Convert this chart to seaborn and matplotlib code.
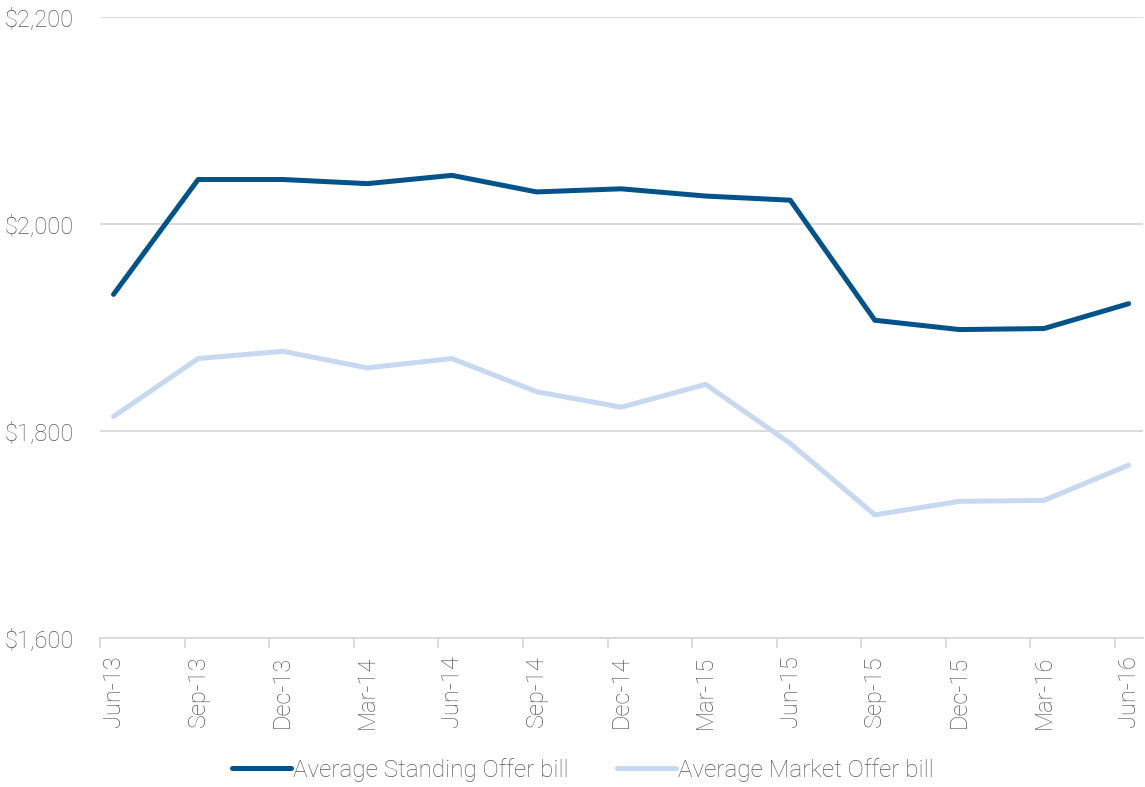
import matplotlib
matplotlib.use("Agg")
import matplotlib.pyplot as plt
import seaborn as sns
import pandas as pd
import numpy as np
from matplotlib.ticker import FixedLocator
from matplotlib.lines import Line2D

quarters = ["Jun-13", "Sep-13", "Dec-13", "Mar-14", "Jun-14", "Sep-14", "Dec-14",
            "Mar-15", "Jun-15", "Sep-15", "Dec-15", "Mar-16", "Jun-16"]
standing_offer = [1932, 2043, 2043, 2039, 2047, 2031, 2034, 2027, 2023, 1907, 1898, 1899, 1923]
market_offer = [1814, 1870, 1877, 1861, 1870, 1838, 1823, 1845, 1788, 1719, 1732, 1733, 1767]
series_names = ["Average Standing Offer bill", "Average Market Offer bill"]
y_ticks = [1600, 1800, 2000, 2200]

sns.set_theme(style="white")
plt.rcParams["font.family"] = ["Roboto", "DejaVu Sans"]

df = pd.DataFrame({
    "pos": list(range(len(quarters))) * 2,
    "value": standing_offer + market_offer,
    "series": [series_names[0]] * len(quarters) + [series_names[1]] * len(quarters),
})

fig = plt.figure(figsize=(11.45, 7.87), dpi=100)
ax = fig.add_axes([100 / 1145, 1 - 638 / 787, 1043 / 1145, (638 - 17) / 787])

palette = {series_names[0]: "#00538A", series_names[1]: "#C6D9F0"}
sns.lineplot(data=df, x="pos", y="value", hue="series", palette=palette,
             linewidth=3.6, ax=ax, legend=False, solid_capstyle="round")

text_color = "#595959"
ax.set_ylim(1600, 2200)
ax.set_yticks(y_ticks)
ax.set_yticklabels([f"${v:,.0f}" for v in y_ticks], fontsize=17, color=text_color, fontweight="light")
ax.grid(axis="y", color="#D9D9D9", linewidth=1.3)
ax.set_axisbelow(True)

ax.set_xlim(-0.16, 12.17)
ax.set_xticks(range(len(quarters)))
ax.set_xticklabels(quarters, rotation=90, fontsize=17, color=text_color, fontweight="light")
ax.xaxis.set_minor_locator(FixedLocator([i - 0.16 for i in range(len(quarters))]))
ax.tick_params(axis="x", which="major", length=0, pad=12.5)
ax.tick_params(axis="x", which="minor", bottom=True, length=7, width=1.3, color="#D9D9D9")
ax.tick_params(axis="y", length=0, pad=19)

for s in ["top", "right", "left"]:
    ax.spines[s].set_visible(False)
ax.spines["bottom"].set_color("#D9D9D9")
ax.spines["bottom"].set_linewidth(1.3)
ax.set_xlabel("")
ax.set_ylabel("")

handles = [Line2D([0], [0], color=palette[n], linewidth=3.6, solid_capstyle="round") for n in series_names]
leg = fig.legend(handles, series_names, loc="center", bbox_to_anchor=(583 / 1145, 1 - 770 / 787),
                 ncol=2, frameon=False, fontsize=17.5, handlelength=2.4, handletextpad=0.1,
                 columnspacing=2.0)
for t in leg.get_texts():
    t.set_color(text_color)
    t.set_fontweight("light")

fig.savefig("out.png", dpi=100)
